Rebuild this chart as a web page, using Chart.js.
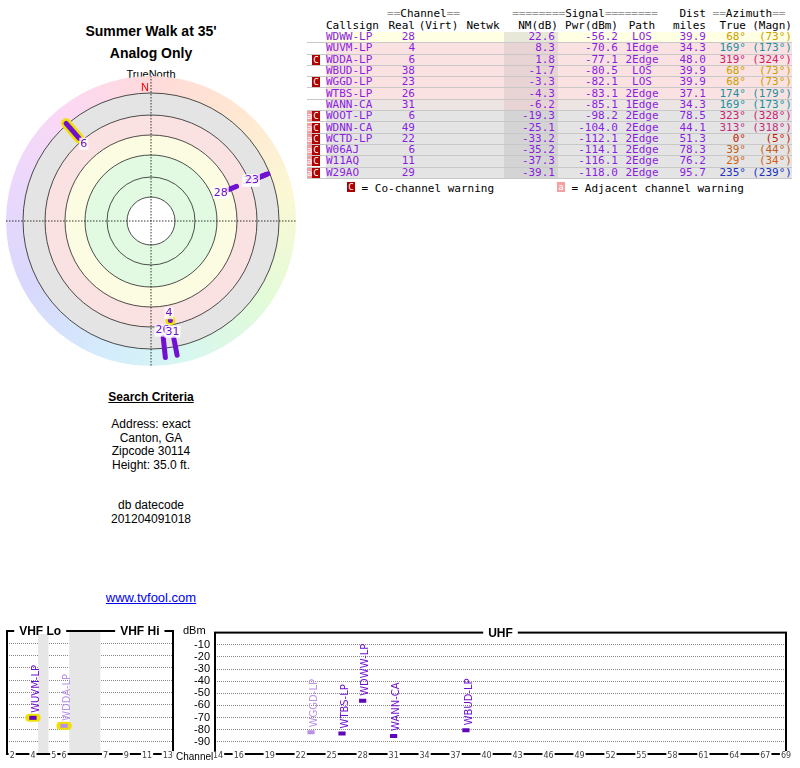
<!DOCTYPE html>
<html>
<head>
<meta charset="utf-8">
<script src="https://cdn.jsdelivr.net/npm/chart.js@4"></script>
<style>
body { margin:0; width:800px; height:768px; position:relative; font-family:"Liberation Sans", Arial, sans-serif; background:#fff; overflow:hidden; }
.abs { position:absolute; }
.ctr { text-align:center; }
#tbl { position:absolute; left:307px; top:8px; border-collapse:collapse; table-layout:fixed; font-family:"DejaVu Sans Mono", monospace; font-size:11px; line-height:10px; }
#tbl td { padding:0; white-space:nowrap; height:10.3px; }
#tbl tr.hdr td { height:12px; }
#tbl tr.d td { border-bottom:1px solid #c8c8c8; color:#8a1ee0; }
.r { text-align:right; }
.c { text-align:center; }
.hdr td { color:#000; }
.eq { color:#999; }
.badge { display:inline-block; width:8px; height:10px; color:#fff; font-size:9px; line-height:10px; text-align:center; vertical-align:top; }
canvas { position:absolute; }
</style>
</head>
<body>
<div class="abs ctr" style="left:0;width:302px;top:20px;font-size:14px;font-weight:bold;line-height:22px">Summer Walk at 35'<br>Analog Only</div>
<div class="abs ctr" style="left:0;width:302px;top:68px;font-size:11px">TrueNorth</div>
<canvas id="polar" width="300" height="300" style="left:1px;top:71px"></canvas>

<div class="abs ctr" style="left:0;width:302px;top:391px;font-size:12px;line-height:13.5px">
<b><u>Search Criteria</u></b><br><br style="line-height:8px">
Address: exact<br>Canton, GA<br>Zipcode 30114<br>Height: 35.0 ft.<br><br><br style="line-height:6px">
db datecode<br>201204091018
</div>
<div class="abs ctr" style="left:0;width:302px;top:590px;font-size:13px;color:#0000ee;text-decoration:underline">www.tvfool.com</div>

<table id="tbl"></table>
<div class="abs" style="left:347px;top:182px;font-family:'DejaVu Sans Mono',monospace;font-size:11px">
<span class="badge" style="background:#b00000">C</span> = Co-channel warning
</div>
<div class="abs" style="left:557px;top:182px;font-family:'DejaVu Sans Mono',monospace;font-size:11px">
<span class="badge" style="background:#f4a0a0">a</span> = Adjacent channel warning
</div>

<canvas id="vhf" width="180" height="147" style="left:0;top:621px"></canvas>
<canvas id="uhf" width="616" height="147" style="left:178px;top:621px"></canvas>
<div class="abs" style="left:183px;top:624px;font-size:11px">dBm</div>
<div class="abs" style="left:176px;top:751px;font-size:10px;background:#fff">Channel</div>

<script>
// station list, in table order
const callsigns = ['WDWW-LP','WUVM-LP','WDDA-LP','WBUD-LP','WGGD-LP','WTBS-LP','WANN-CA','WOOT-LP','WDNN-CA','WCTD-LP','W06AJ','W11AQ','W29AO'];
const realCh   = [28, 4, 6, 38, 23, 26, 31, 6, 49, 22, 6, 11, 29];
const nmDb     = [22.6, 8.3, 1.8, -1.7, -3.3, -4.3, -6.2, -19.3, -25.1, -33.2, -35.2, -37.3, -39.1];
const pwrDbm   = [-56.2, -70.6, -77.1, -80.5, -82.1, -83.1, -85.1, -98.2, -104.0, -112.1, -114.1, -116.1, -118.0];
const paths    = ['LOS','1Edge','2Edge','LOS','LOS','2Edge','1Edge','2Edge','2Edge','2Edge','2Edge','2Edge','2Edge'];
const distMi   = [39.9, 34.3, 48.0, 39.9, 39.9, 37.1, 34.3, 78.5, 44.1, 51.3, 78.3, 76.2, 95.7];
const azTrue   = [68, 169, 319, 68, 68, 174, 169, 323, 313, 0, 39, 29, 235];
const azMagn   = [73, 173, 324, 73, 73, 179, 173, 328, 318, 5, 44, 34, 239];
const coWarn   = [0, 0, 1, 0, 1, 0, 0, 1, 1, 1, 1, 1, 1];
const adjWarn  = [0, 0, 0, 0, 0, 0, 0, 1, 1, 1, 1, 1, 1];
// stations drawn on the plots (first seven)
const plotted  = [0, 1, 2, 3, 4, 5, 6];
const yellowRing = [1, 2];
const faint    = [2, 4];
const dbmTicks = [-10, -20, -30, -40, -50, -60, -70, -80, -90];
const vhfSlots = ['2','3','4',' ','5','6','  ','   ','    ','7','8','9','10','11','12','13'];
const vhfShown = ['2','4','5','6','7','9','11','13'];
const uhfTicks = [14, 16, 19, 22, 25, 28, 31, 34, 37, 40, 43, 46, 49, 52, 55, 58, 61, 64, 67, 69];

const azColors = {68:'#c8a000',169:'#1a90a0',319:'#d02070',174:'#1a90a0',323:'#d02070',313:'#c03080',0:'#c02000',39:'#c06020',29:'#d06010',235:'#2030c0'};
const rowBg = i => i === 0 ? '#ffffe4' : (i < 6 ? '#fbe2e2' : (i === 6 ? '#ede4e4' : '#e4e4e4'));
const nmBg  = i => i === 0 ? '#e8e8d8' : (i < 7 ? '#e8d4d4' : '#d4d4d4');

// ---- table ----
const tbl = document.getElementById('tbl');
const widths = [19, 59, 30, 47, 42, 54, 60, 48, 40, 40, 46];
let html = '<colgroup>' + widths.map(w => `<col style="width:${w}px">`).join('') + '</colgroup>';
html += `<tr class="hdr"><td></td><td></td><td colspan="2" class="c"><span class="eq">==</span>Channel<span class="eq">==</span></td><td></td>
<td colspan="3" class="c"><span class="eq">========</span>Signal<span class="eq">========</span></td><td class="r">Dist</td>
<td colspan="2" class="c"><span class="eq">==</span>Azimuth<span class="eq">==</span></td></tr>`;
html += `<tr class="hdr"><td></td><td>Callsign</td><td class="r">Real</td><td class="c">(Virt)</td><td class="c">Netwk</td><td class="r">NM(dB)</td><td class="r">Pwr(dBm)</td><td class="c">Path</td><td class="r">miles</td><td class="r">True</td><td class="r">(Magn)</td></tr>`;
callsigns.forEach((cs, i) => {
  let b = '';
  if (adjWarn[i]) b += '<span class="badge" style="background:#f4a0a0;width:5px">a</span>';
  if (coWarn[i]) b += '<span class="badge" style="background:#b00000">C</span>';
  const ac = azColors[azTrue[i]];
  html += `<tr class="d" style="background:${rowBg(i)}"><td class="r" style="background:#fff;padding-right:6px">${b}</td><td>${cs}</td><td class="r">${realCh[i]}</td><td></td><td></td>
  <td class="r" style="background:${nmBg(i)};padding-right:3px">${nmDb[i].toFixed(1)}</td><td class="r">${pwrDbm[i].toFixed(1)}</td><td class="c">${paths[i]}</td>
  <td class="r">${distMi[i].toFixed(1)}</td><td class="r" style="color:${ac}">${azTrue[i]}°</td><td class="r" style="color:${ac}">(${azMagn[i]}°)</td></tr>`;
});
tbl.innerHTML = html;

// ---- polar plot ----
const rad = p => 82 + (-56 - p) * 1.3;
const segLen = {LOS: 10, '1Edge': 17, '2Edge': 20};
const toXY = (az, r) => ({x: r * Math.sin(az * Math.PI / 180), y: r * Math.cos(az * Math.PI / 180)});
const purple = '#7010d0';
const polarSets = [];
plotted.forEach(i => {
  const r0 = rad(pwrDbm[i]);
  const pts = i === 1 ? [toXY(azTrue[i], r0), toXY(azTrue[i], r0 + 0.5)] : [toXY(azTrue[i], r0), toXY(azTrue[i], r0 + segLen[paths[i]])];
  if (yellowRing.includes(i)) polarSets.push({data: pts, borderColor: '#f0e000', borderWidth: 10, borderCapStyle: 'round', pointRadius: 0, showLine: true, order: 2});
  polarSets.push({data: pts, borderColor: purple, borderWidth: 5, borderCapStyle: 'round', pointRadius: 0, showLine: true, order: 1, station: i});
});

const polarBg = {
  id: 'polarBg',
  beforeDatasetsDraw(chart) {
    const {ctx, scales: {x, y}} = chart;
    const cx = x.getPixelForValue(0), cy = y.getPixelForValue(0);
    const k = x.getPixelForValue(1) - cx;
    ctx.save();
    const g = ctx.createConicGradient(-Math.PI / 2, cx, cy);
    [['#ffdada',0],['#ffe6d2',0.1],['#fbf8d4',0.22],['#e2fbd8',0.35],['#d6f6f2',0.47],['#d4ecfc',0.55],['#d8d8fc',0.67],['#ecd8fc',0.8],['#fcd8f4',0.9],['#ffdada',1]].forEach(s => g.addColorStop(s[1], s[0]));
    const disc = (r, c) => { ctx.beginPath(); ctx.arc(cx, cy, r * k, 0, 2 * Math.PI); ctx.fillStyle = c; ctx.fill(); };
    disc(145, g); disc(128, '#e4e4e4'); disc(106, '#fae2e2'); disc(86, '#fcfce2'); disc(66, '#e2fae2'); disc(24, '#fff');
    ctx.strokeStyle = '#222'; ctx.lineWidth = 0.8;
    [24, 44, 66, 86, 106, 128].forEach(r => { ctx.beginPath(); ctx.arc(cx, cy, r * k, 0, 2 * Math.PI); ctx.stroke(); });
    ctx.setLineDash([1.5, 1.5]); ctx.strokeStyle = '#000';
    ctx.beginPath(); ctx.moveTo(x.getPixelForValue(-145), cy); ctx.lineTo(x.getPixelForValue(145), cy);
    ctx.moveTo(cx, y.getPixelForValue(145)); ctx.lineTo(cx, y.getPixelForValue(-145)); ctx.stroke();
    ctx.setLineDash([]);
    ctx.fillStyle = '#f00'; ctx.font = '11px "Liberation Sans"'; ctx.textAlign = 'center';
    ctx.fillText('N', cx - 6, y.getPixelForValue(128) - 2);
    ctx.restore();
  },
  afterDatasetsDraw(chart) {
    const {ctx, scales: {x, y}} = chart;
    ctx.save();
    ctx.font = '11px "DejaVu Sans"'; ctx.textAlign = 'center'; ctx.textBaseline = 'middle';
    plotted.forEach(i => {
      const p = toXY(azTrue[i], rad(pwrDbm[i]) - 7);
      const px = x.getPixelForValue(p.x), py = y.getPixelForValue(p.y);
      const t = String(realCh[i]), w = ctx.measureText(t).width;
      ctx.fillStyle = 'rgba(255,255,255,0.8)'; ctx.fillRect(px - w / 2 - 1, py - 6, w + 2, 12);
      ctx.fillStyle = purple; ctx.fillText(t, px, py);
    });
    ctx.restore();
  }
};

new Chart(document.getElementById('polar'), {
  type: 'scatter',
  data: {datasets: polarSets},
  options: {
    responsive: false, animation: false, layout: {padding: 0},
    plugins: {legend: {display: false}, tooltip: {enabled: false}},
    scales: {
      x: {type: 'linear', min: -150, max: 150, display: false},
      y: {type: 'linear', min: -150, max: 150, display: false}
    }
  },
  plugins: [polarBg]
});

// ---- spectrum charts ----
function specSets(xOf) {
  const sets = [];
  plotted.forEach(i => {
    const cx = xOf(realCh[i]);
    if (cx === null) return;
    const pts = [{x: cx - 0.35, y: pwrDbm[i]}, {x: cx + 0.35, y: pwrDbm[i]}];
    if (yellowRing.includes(i)) sets.push({data: pts, borderColor: '#f0e000', borderWidth: 8, borderCapStyle: 'round', pointRadius: 0, showLine: true, order: 2});
    sets.push({data: pts, borderColor: faint.includes(i) ? '#b890e8' : '#6008b8', borderWidth: 4, pointRadius: 0, showLine: true, order: 1, station: i, cx: cx});
  });
  return sets;
}

function framePlugin(titles, bands, tickLabel) {
  return {
    id: 'frame',
    beforeDatasetsDraw(chart) {
      const {ctx, chartArea: a, scales: {x}} = chart;
      ctx.save();
      ctx.fillStyle = '#e6e6e6';
      bands.forEach(b => {
        const x0 = x.getPixelForValue(b[0]), x1 = x.getPixelForValue(b[1]);
        ctx.fillRect(x0, a.top, x1 - x0, a.bottom - a.top);
      });
      ctx.restore();
    },
    afterDatasetsDraw(chart) {
      const {ctx, chartArea: a, scales: {x, y}} = chart;
      ctx.save();
      ctx.strokeStyle = '#000'; ctx.lineWidth = 2;
      ctx.strokeRect(a.left, a.top, a.right - a.left, a.bottom - a.top);
      ctx.font = 'bold 12px "Liberation Sans"'; ctx.textBaseline = 'middle'; ctx.textAlign = 'center';
      titles.forEach(t => {
        const tx = a.left + t[1] * (a.right - a.left);
        const w = ctx.measureText(t[0]).width;
        ctx.fillStyle = '#fff'; ctx.fillRect(tx - w / 2 - 5, a.top - 3, w + 10, 6);
        ctx.fillStyle = '#000'; ctx.fillText(t[0], tx, a.top + 1);
      });
      // channel tick labels sitting on the bottom border
      ctx.font = '8px "DejaVu Sans"';
      x.ticks.forEach(t => {
        const px = x.getPixelForValue(t.value), s = tickLabel(t.value), w = ctx.measureText(s).width;
        ctx.fillStyle = '#fff'; ctx.fillRect(px - w / 2 - 1, a.bottom - 3, w + 2, 8);
        ctx.fillStyle = '#444'; ctx.fillText(s, px, a.bottom + 2);
      });
      ctx.font = '10px "DejaVu Sans"'; ctx.textAlign = 'left';
      chart.data.datasets.forEach(ds => {
        if (ds.station === undefined) return;
        const i = ds.station;
        const px = x.getPixelForValue(ds.cx), py = y.getPixelForValue(pwrDbm[i]) - 5;
        ctx.save(); ctx.translate(px + 3, py); ctx.rotate(-Math.PI / 2);
        ctx.fillStyle = faint.includes(i) ? '#b890e8' : '#7010d0';
        ctx.fillText(callsigns[i], 0, 0);
        ctx.restore();
      });
      ctx.restore();
    }
  };
}

const yAxis = (show) => ({
  type: 'linear', min: -100, max: 0,
  afterBuildTicks: s => { s.ticks = dbmTicks.map(v => ({value: v})); },
  grid: {color: '#888', borderDash: [1, 1], drawTicks: false},
  border: {display: false, dash: [1, 1]},
  ticks: {display: show, autoSkip: false, color: '#000', font: {size: 11, family: 'Liberation Sans'}, padding: 5},
  afterFit: s => { s.width = show ? 37 : 0; }
});

const vhfIdx = ch => { const k = vhfSlots.indexOf(String(ch)); return k < 0 ? null : k; };
new Chart(document.getElementById('vhf'), {
  type: 'scatter',
  data: {datasets: specSets(vhfIdx)},
  options: {
    responsive: false, animation: false, layout: {padding: {left: 7, right: 7, top: 10, bottom: 6}},
    plugins: {legend: {display: false}, tooltip: {enabled: false}},
    scales: {
      x: {type: 'linear', min: -0.5, max: vhfSlots.length - 0.5,
          afterBuildTicks: s => { s.ticks = vhfShown.map(l => ({value: vhfSlots.indexOf(l)})); },
          grid: {display: false}, border: {display: false}, ticks: {display: false}},
      y: yAxis(false)
    }
  },
  plugins: [framePlugin([['VHF Lo', 0.2], ['VHF Hi', 0.8]], [[2.5, 3.5], [5.5, 8.5]], v => vhfSlots[v])]
});

new Chart(document.getElementById('uhf'), {
  type: 'scatter',
  data: {datasets: specSets(ch => ch >= 14 ? ch : null)},
  options: {
    responsive: false, animation: false, layout: {padding: {left: 0, right: 8, top: 10, bottom: 6}},
    plugins: {legend: {display: false}, tooltip: {enabled: false}},
    scales: {
      x: {type: 'linear', min: 13.7, max: 69,
          afterBuildTicks: s => { s.ticks = uhfTicks.map(v => ({value: v})); },
          grid: {display: false}, border: {display: false}, ticks: {display: false}},
      y: yAxis(true)
    }
  },
  plugins: [framePlugin([['UHF', 0.5]], [], v => String(v))]
});
</script>
</body>
</html>
